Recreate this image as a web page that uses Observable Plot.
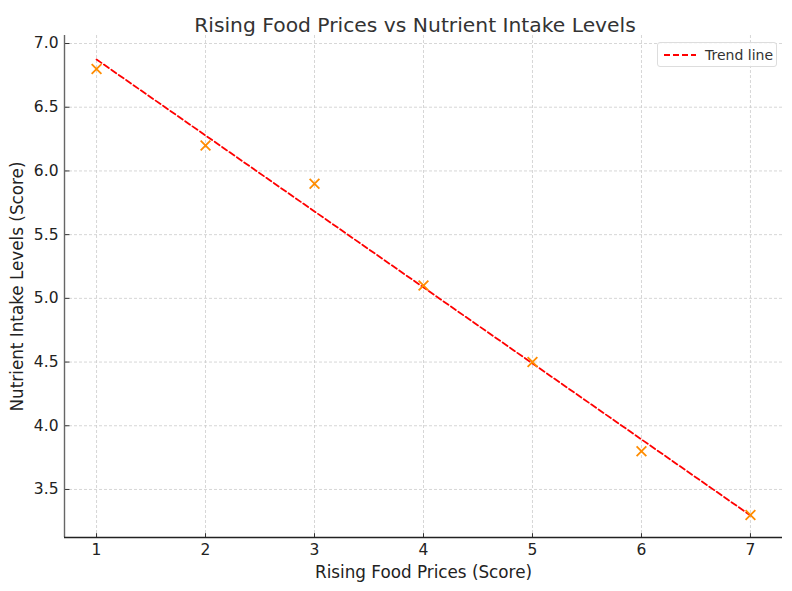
<!DOCTYPE html>
<html>
<head>
<meta charset="utf-8">
<script src="https://cdn.jsdelivr.net/npm/d3@7"></script>
<script src="https://cdn.jsdelivr.net/npm/@observablehq/plot@0.6"></script>
<style>
  body { margin: 0; background: #fff; font-family: "DejaVu Sans", sans-serif; }
  #wrap { position: relative; width: 792px; height: 591px; }
  #title { height: 35px; margin-left: 38px; width: 754px; text-align: center; font-size: 20.3px; color: #333; line-height: 50px; white-space: nowrap; }
  #legend { position: absolute; left: 657px; top: 42px; width: 120px; height: 25px; border: 1px solid #ddd; border-radius: 3px; background: rgba(255,255,255,0.85); font-size: 14px; color: #333; display: flex; align-items: center; box-sizing: border-box; }
  #legend svg { margin: 0 8px 0 5px; }
  #chart svg text { font-family: "DejaVu Sans", sans-serif; }
</style>
</head>
<body>
<div id="wrap">
  <div id="title">Rising Food Prices vs Nutrient Intake Levels</div>
  <div id="chart"></div>
  <div id="legend"><svg width="34" height="10"><line x1="1" y1="5" x2="33" y2="5" stroke="red" stroke-width="2" stroke-dasharray="6,3"/></svg>Trend line</div>
</div>
<script>
const foodPrices = [1, 2, 3, 4, 5, 6, 7];
const nutrientIntake = [6.8, 6.2, 5.9, 5.1, 4.5, 3.8, 3.3];
const xTicks = [1, 2, 3, 4, 5, 6, 7];
const yTicks = [3.5, 4.0, 4.5, 5.0, 5.5, 6.0, 6.5, 7.0];

const data = foodPrices.map((x, i) => ({x, y: nutrientIntake[i]}));
const xDomain = [0.706, 7.294];
const yDomain = [3.123, 7.063];

const chart = Plot.plot({
  width: 792,
  height: 556,
  marginLeft: 64,
  marginRight: 10,
  marginTop: 0,
  marginBottom: 54,
  style: { fontFamily: "DejaVu Sans, sans-serif", fontSize: "15.5px", color: "#222", background: "white" },
  x: { domain: xDomain, ticks: xTicks, label: null },
  y: { domain: yDomain, ticks: yTicks, label: null },
  marks: [
    Plot.gridX(xTicks, { stroke: "#ccc", strokeOpacity: 1, strokeDasharray: "3,2", strokeWidth: 0.8 }),
    Plot.gridY(yTicks, { stroke: "#ccc", strokeOpacity: 1, strokeDasharray: "3,2", strokeWidth: 0.8 }),
    Plot.axisX(xTicks, { tickSize: 0, tickPadding: 6, tickFormat: d3.format("d"), fontSize: 15.5 }),
    Plot.axisY(yTicks, { tickSize: 0, tickPadding: 6, tickFormat: d3.format(".1f"), fontSize: 15.5 }),
    Plot.ruleX(xTicks, { x: d => d, y1: yDomain[0], y2: yDomain[0] + 0.03, stroke: "#333", strokeWidth: 1 }),
    Plot.ruleY(yTicks, { y: d => d, x1: xDomain[0], x2: xDomain[0] + 0.05, stroke: "#333", strokeWidth: 1 }),
    Plot.ruleX([xDomain[0]], { stroke: "#666", strokeWidth: 1.4 }),
    Plot.ruleY([yDomain[0]], { stroke: "#222", strokeWidth: 1.4 }),
    Plot.linearRegressionY(data, { x: "x", y: "y", ci: 0, stroke: "red", strokeWidth: 1.8, strokeDasharray: "6,3" }),
    Plot.dot(data, { x: "x", y: "y", symbol: "times", r: 4.5, stroke: "#ff8c00", strokeWidth: 1.8 }),
    Plot.text(["Rising Food Prices (Score)"], { frameAnchor: "bottom", lineAnchor: "middle", dy: 35, fontSize: 16.8, fill: "#222" }),
    Plot.text(["Nutrient Intake Levels (Score)"], { frameAnchor: "left", textAnchor: "middle", lineAnchor: "middle", dx: -47, rotate: -90, fontSize: 16.8, fill: "#222" })
  ]
});
document.getElementById("chart").appendChild(chart);
</script>
</body>
</html>
